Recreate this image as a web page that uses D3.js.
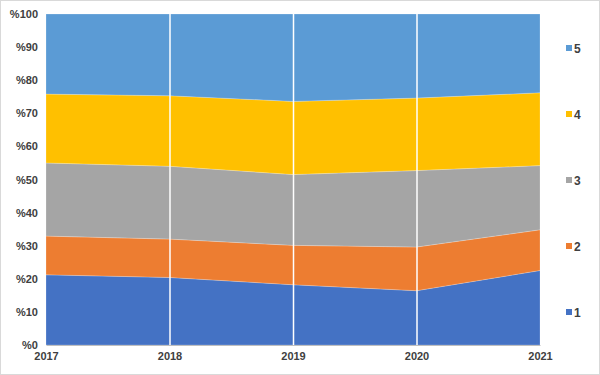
<!DOCTYPE html>
<html>
<head>
<meta charset="utf-8">
<script src="https://cdn.jsdelivr.net/npm/d3@7"></script>
<style>
  body { margin: 0; background: #fff; }
  text { font-family: "Liberation Sans", Arial, sans-serif; font-weight: bold; fill: #404040; }
</style>
</head>
<body>
<svg id="chart" width="600" height="375"></svg>
<script>
// data (percent share per year)
let years = [2017, 2018, 2019, 2020, 2021];
let seriesNames = ["1", "2", "3", "4", "5"];
let s1 = [21.2, 20.4, 18.2, 16.4, 22.5];
let s2 = [11.7, 11.6, 11.9, 13.2, 12.3];
let s3 = [22.1, 22.0, 21.4, 23.1, 19.4];
let s4 = [20.8, 21.3, 22.1, 21.9, 22.0];
let s5 = [24.2, 24.7, 26.4, 25.4, 23.8];
let yTicks = [0, 10, 20, 30, 40, 50, 60, 70, 80, 90, 100];
let colors = ["#4472C4", "#ED7D31", "#A5A5A5", "#FFC000", "#5B9BD5"];

let svg = d3.select("#chart");

// outer frame
svg.append("rect")
    .attr("x", 0.5).attr("y", 0.5)
    .attr("width", 599).attr("height", 374)
    .attr("fill", "none")
    .attr("stroke", "#d9d9d9");

let plotLeft = 46, plotRight = 540, plotTop = 14, plotBottom = 345;

// build rows and normalise to 100%
let allSeries = [s1, s2, s3, s4, s5];
let rows = years.map(function(y, i) {
    let row = { year: y };
    let total = d3.sum(allSeries, s => s[i]);
    seriesNames.forEach(function(n, k) { row[n] = allSeries[k][i] / total * 100; });
    return row;
});

let stacked = d3.stack().keys(seriesNames)(rows);

let xScale = d3.scaleLinear().domain([2017, 2021]).range([plotLeft, plotRight]);
let yScale = d3.scaleLinear().domain([0, 100]).range([plotBottom, plotTop]);

let area = d3.area()
    .x(d => xScale(d.data.year))
    .y0(d => yScale(d[0]))
    .y1(d => yScale(d[1]));

svg.append("g").selectAll("path")
    .data(stacked)
    .enter()
    .append("path")
    .attr("d", area)
    .attr("fill", (d, i) => colors[i])
    .attr("stroke", "rgba(255,255,255,0.35)")
    .attr("stroke-width", 0.6);

// vertical white gridlines on top of areas
svg.append("g").selectAll("line")
    .data(years.slice(1, -1))
    .enter()
    .append("line")
    .attr("x1", d => xScale(d) + 0.5).attr("x2", d => xScale(d) + 0.5)
    .attr("y1", plotTop).attr("y2", plotBottom)
    .attr("stroke", "#fff")
    .attr("stroke-width", 1.5);

// x axis
let xAxis = d3.axisBottom(xScale).tickValues(years).tickFormat(d3.format("d")).tickSize(0).tickPadding(7);
let gx = svg.append("g")
    .attr("transform", "translate(0," + plotBottom + ")")
    .call(xAxis);
gx.select(".domain").attr("stroke", "#bfbfbf");
gx.selectAll("text").style("font-size", "11px").attr("fill", "#404040");

// y axis
let yAxis = d3.axisLeft(yScale).tickValues(yTicks).tickFormat(d => "%" + d).tickSize(0).tickPadding(8);
let gy = svg.append("g")
    .attr("transform", "translate(" + plotLeft + ",0)")
    .call(yAxis);
gy.select(".domain").remove();
gy.selectAll("text").style("font-size", "11px").attr("fill", "#404040");

// legend (reversed order, top = 5)
let legendY = d3.scalePoint().domain(seriesNames.slice().reverse()).range([48, 312]);
let legend = svg.append("g").selectAll("g")
    .data(seriesNames)
    .enter()
    .append("g")
    .attr("transform", d => "translate(566," + legendY(d) + ")");
legend.append("rect")
    .attr("x", 0).attr("y", -3)
    .attr("width", 6).attr("height", 6)
    .attr("fill", (d, i) => colors[i]);
legend.append("text")
    .attr("x", 8).attr("y", 4.5)
    .style("font-size", "12px")
    .text(d => d);
</script>
</body>
</html>
